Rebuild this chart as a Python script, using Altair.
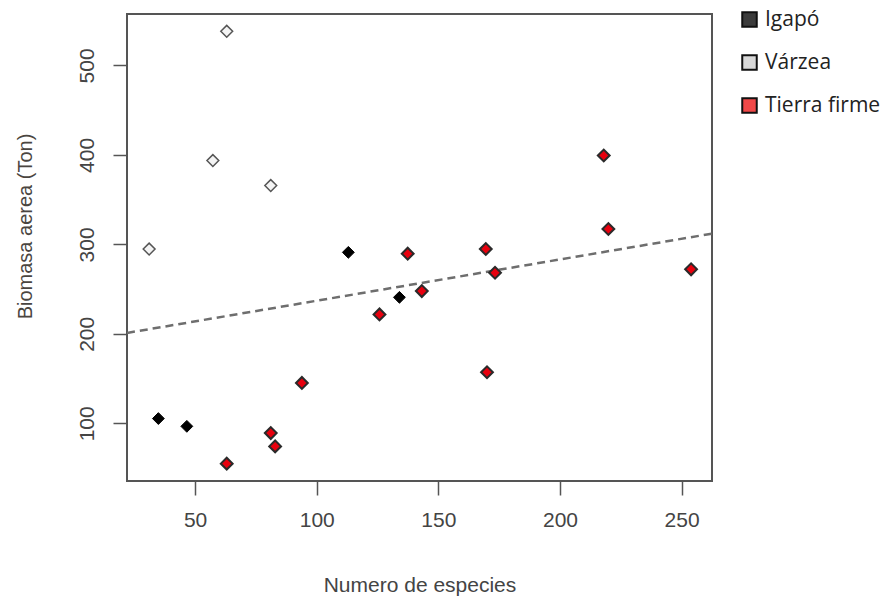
import altair as alt
import pandas as pd

# Data
igapo_x = [34.9, 46.6, 113.0, 134.0]
igapo_y = [105.3, 96.6, 291.1, 240.8]

varzea_x = [31.1, 63.0, 57.3, 81.1]
varzea_y = [294.8, 538.2, 393.7, 365.7]

tierra_x = [63.0, 81.1, 82.9, 93.9, 125.8, 137.4, 143.2, 169.5, 173.3, 170.0, 219.9, 218.0, 253.9]
tierra_y = [54.9, 89.1, 74.2, 145.1, 221.7, 289.6, 247.8, 294.8, 268.3, 157.1, 317.2, 399.3, 272.1]

groups = ["Igapó", "Várzea", "Tierra firme"]
point_fill = ["#000000", "#f4f4f4", "#e8000e"]
point_stroke = ["#000000", "#555555", "#2a2a2a"]
point_stroke_w = [1.0, 2.0, 1.3]
legend_fill = ["#3c3c3c", "#d8d8d8", "#f04848"]

trend_x = [22.0, 262.5]
trend_y = [201.0, 312.0]

x_ticks = [50, 100, 150, 200, 250]
y_ticks = [100, 200, 300, 400, 500]
x_domain = [22.0, 262.5]
y_domain = [35.5, 557.5]

rows = []
for g, xs_, ys_ in zip(groups, [igapo_x, varzea_x, tierra_x], [igapo_y, varzea_y, tierra_y]):
    for xv, yv in zip(xs_, ys_):
        rows.append({"especies": xv, "biomasa": yv, "grupo": g})
df = pd.DataFrame(rows)
trend = pd.DataFrame({"especies": trend_x, "biomasa": trend_y})
legend_df = pd.DataFrame({"grupo": groups})

xs = alt.Scale(domain=x_domain, nice=False, zero=False)
ys = alt.Scale(domain=y_domain, nice=False, zero=False)

x_axis = alt.Axis(
    values=x_ticks, title="Numero de especies", grid=False, domain=False,
    tickSize=14, tickWidth=1.5, tickColor="#555555",
    labelFont="Liberation Sans", labelFontSize=21, labelColor="#444444", labelPadding=14,
    titleFont="Liberation Sans", titleFontSize=21, titleFontWeight="normal",
    titleColor="#444444", titleY=93, titleBaseline="top",
)
y_axis = alt.Axis(
    values=y_ticks, title="Biomasa aerea (Ton)", grid=False, domain=False,
    tickSize=14, tickWidth=1.5, tickColor="#555555",
    labelFont="Liberation Sans", labelFontSize=21, labelColor="#444444",
    labelAngle=-90, labelPadding=16,
    titleFont="Liberation Sans", titleFontSize=20, titleFontWeight="normal",
    titleColor="#4a4540", titleX=-102, titleY=212, titleAngle=-90,
    titleAlign="center", titleBaseline="middle",
)

line = alt.Chart(trend).mark_line(
    color="#6e6e6e", strokeWidth=2.5, strokeDash=[8, 5], clip=True
).encode(
    x=alt.X("especies:Q", scale=xs, axis=x_axis),
    y=alt.Y("biomasa:Q", scale=ys, axis=y_axis),
)

points = alt.Chart(df).mark_point(
    shape="diamond", filled=True, size=140, opacity=1
).encode(
    x=alt.X("especies:Q", scale=xs),
    y=alt.Y("biomasa:Q", scale=ys),
    fill=alt.Fill("grupo:N", scale=alt.Scale(domain=groups, range=point_fill), legend=None),
    stroke=alt.Stroke("grupo:N", scale=alt.Scale(domain=groups, range=point_stroke), legend=None),
    strokeWidth=alt.StrokeWidth("grupo:N", scale=alt.Scale(domain=groups, range=point_stroke_w), legend=None),
)

legend_layer = alt.Chart(legend_df).mark_square(opacity=0, size=1).encode(
    shape=alt.Shape(
        "grupo:N",
        scale=alt.Scale(domain=groups, range=["square", "square", "square"]),
        legend=None,
    ),
    fill=alt.Fill(
        "grupo:N",
        scale=alt.Scale(domain=groups, range=legend_fill),
        legend=alt.Legend(
            title=None, orient="none", legendX=612, legendY=-5,
            symbolType="square", symbolSize=210, symbolOpacity=1,
            symbolStrokeColor="#111111", symbolStrokeWidth=2,
            labelFont="Open Sans", labelFontSize=21, labelColor="#222222",
            labelOffset=5, rowPadding=20, padding=0,
        ),
    ),
)

chart = alt.layer(line, points, legend_layer).resolve_scale(
    fill="independent"
).resolve_legend(
    fill="independent"
).properties(
    width=585, height=467,
    autosize=alt.AutoSizeParams(type="none"),
    padding={"left": 127, "top": 14, "right": 183, "bottom": 121},
).configure_view(
    stroke="#555555", strokeWidth=2
)

chart.save("out.html", embed_options={"renderer": "svg", "actions": False})
